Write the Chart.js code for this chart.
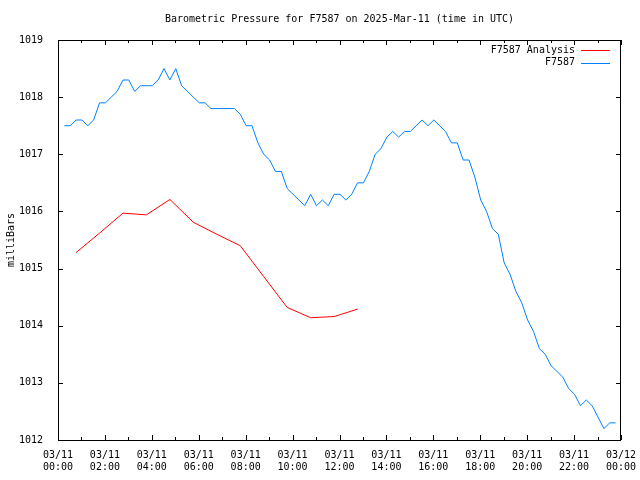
<!DOCTYPE html>
<html>
<head>
<meta charset="utf-8">
<title>Barometric Pressure for F7587</title>
<script src="https://cdn.jsdelivr.net/npm/chart.js@4.4.1/dist/chart.umd.min.js"></script>
<style>
  html, body { margin: 0; padding: 0; background: #fff; }
</style>
</head>
<body>
<canvas id="pressureChart" width="640" height="480"></canvas>
<script>
const chartTitle = 'Barometric Pressure for F7587 on 2025-Mar-11 (time in UTC)';
const yAxisLabel = 'milliBars';

// station reports, hours after 03/11 00:00 UTC, one every 15 min
const obsStart = 0.27;
const obsStep = 0.25;
const obsPressure = [
  1017.5, 1017.5, 1017.6, 1017.6, 1017.5, 1017.6, 1017.9, 1017.9,
  1018.0, 1018.1, 1018.3, 1018.3, 1018.1, 1018.2, 1018.2, 1018.2,
  1018.3, 1018.5, 1018.3, 1018.5, 1018.2, 1018.1, 1018.0, 1017.9,
  1017.9, 1017.8, 1017.8, 1017.8, 1017.8, 1017.8, 1017.7, 1017.5,
  1017.5, 1017.2, 1017.0, 1016.9, 1016.7, 1016.7, 1016.4, 1016.3,
  1016.2, 1016.1, 1016.3, 1016.1, 1016.2, 1016.1, 1016.3, 1016.3,
  1016.2, 1016.3, 1016.5, 1016.5, 1016.7, 1017.0, 1017.1, 1017.3,
  1017.4, 1017.3, 1017.4, 1017.4, 1017.5, 1017.6, 1017.5, 1017.6,
  1017.5, 1017.4, 1017.2, 1017.2, 1016.9, 1016.9, 1016.6, 1016.2,
  1016.0, 1015.7, 1015.6, 1015.1, 1014.9, 1014.6, 1014.4, 1014.1,
  1013.9, 1013.6, 1013.5, 1013.3, 1013.2, 1013.1, 1012.9, 1012.8,
  1012.6, 1012.7, 1012.6, 1012.4, 1012.2, 1012.3, 1012.3
];

// hourly analysis values
const analysisHours = [0.77, 1.77, 2.77, 3.77, 4.77, 5.77, 6.77, 7.77, 8.77, 9.77, 10.77, 11.77, 12.77];
const analysisPressure = [1015.28, 1015.62, 1015.97, 1015.94, 1016.21, 1015.81, 1015.60,
                          1015.40, 1014.86, 1014.32, 1014.14, 1014.16, 1014.29];

const xTickHours = [0, 2, 4, 6, 8, 10, 12, 14, 16, 18, 20, 22, 24];
const xTickDates = ['03/11', '03/11', '03/11', '03/11', '03/11', '03/11', '03/11',
                    '03/11', '03/11', '03/11', '03/11', '03/11', '03/12'];
const xTickTimes = ['00:00', '02:00', '04:00', '06:00', '08:00', '10:00', '12:00',
                    '14:00', '16:00', '18:00', '20:00', '22:00', '00:00'];
const yMin = 1012;
const yMax = 1019;

const FONT = '"DejaVu Sans Mono", "Liberation Mono", monospace';

const obsPoints = obsPressure.map((p, i) => ({ x: obsStart + i * obsStep, y: p }));
const analysisPoints = analysisHours.map((h, i) => ({ x: h, y: analysisPressure[i] }));

// gnuplot look: frame, inward tics, centred title, legend in the top right
const gnuplotBits = {
  id: 'gnuplotBits',
  afterDraw(chart) {
    const { ctx, chartArea: a, scales: { x, y } } = chart;
    ctx.save();
    ctx.strokeStyle = '#000';
    ctx.lineWidth = 1;
    ctx.strokeRect(a.left + 0.5, a.top + 0.5, a.right - a.left - 1, a.bottom - a.top);

    ctx.beginPath();
    for (let h = 0; h <= 24; h++) {
      const px = Math.round(x.getPixelForValue(h)) + 0.5;
      const len = h % 2 === 0 ? 5 : 3;
      ctx.moveTo(px, a.bottom); ctx.lineTo(px, a.bottom - len);
      ctx.moveTo(px, a.top); ctx.lineTo(px, a.top + len);
    }
    for (let v = yMin; v <= yMax; v++) {
      const py = Math.round(y.getPixelForValue(v)) + 0.5;
      ctx.moveTo(a.left, py); ctx.lineTo(a.left + 5, py);
      ctx.moveTo(a.right, py); ctx.lineTo(a.right - 5, py);
    }
    ctx.stroke();

    ctx.fillStyle = '#000';
    ctx.font = '10px ' + FONT;
    ctx.textBaseline = 'middle';
    ctx.textAlign = 'center';
    ctx.fillText(chartTitle, (a.left + a.right) / 2, 19);

    ctx.textAlign = 'right';
    chart.data.datasets.forEach((ds, i) => {
      const ly = 50 + i * 12.5;
      ctx.fillStyle = '#000';
      ctx.fillText(ds.label, 575, ly);
      ctx.strokeStyle = ds.borderColor;
      ctx.beginPath();
      ctx.moveTo(581, Math.round(ly) + 0.5);
      ctx.lineTo(610, Math.round(ly) + 0.5);
      ctx.stroke();
    });
    ctx.restore();
  }
};

new Chart(document.getElementById('pressureChart'), {
  type: 'line',
  data: {
    datasets: [
      {
        label: 'F7587 Analysis',
        data: analysisPoints,
        borderColor: '#ff0000',
        borderWidth: 1,
        pointRadius: 0,
        tension: 0
      },
      {
        label: 'F7587',
        data: obsPoints,
        borderColor: '#0080ff',
        borderWidth: 1,
        pointRadius: 0,
        tension: 0
      }
    ]
  },
  options: {
    responsive: false,
    devicePixelRatio: 1,
    animation: false,
    layout: { padding: { top: 40, right: 19, left: 0, bottom: 0 } },
    plugins: {
      legend: { display: false },
      title: { display: false },
      tooltip: { enabled: false }
    },
    scales: {
      x: {
        type: 'linear',
        min: 0,
        max: 24,
        afterFit: s => { s.height = 40; s.paddingLeft = 0; s.paddingRight = 0; },
        afterBuildTicks: s => { s.ticks = xTickHours.map(v => ({ value: v })); },
        grid: { display: false },
        border: { display: false },
        ticks: {
          autoSkip: false,
          maxRotation: 0,
          padding: 1,
          color: '#000',
          font: { family: FONT, size: 10, lineHeight: 1.2 },
          callback: v => {
            const i = xTickHours.indexOf(v);
            return [xTickDates[i], xTickTimes[i]];
          }
        }
      },
      y: {
        min: yMin,
        max: yMax,
        afterFit: s => { s.width = 58; s.paddingTop = 0; s.paddingBottom = 0; },
        grid: { display: false },
        border: { display: false },
        ticks: {
          stepSize: 1,
          padding: 7,
          color: '#000',
          font: { family: FONT, size: 10 },
          callback: v => String(v)
        },
        title: {
          display: true,
          text: yAxisLabel,
          color: '#000',
          padding: { top: 5, bottom: 0 },
          font: { family: FONT, size: 10, lineHeight: 1.2 }
        }
      }
    }
  },
  plugins: [gnuplotBits]
});
</script>
</body>
</html>
